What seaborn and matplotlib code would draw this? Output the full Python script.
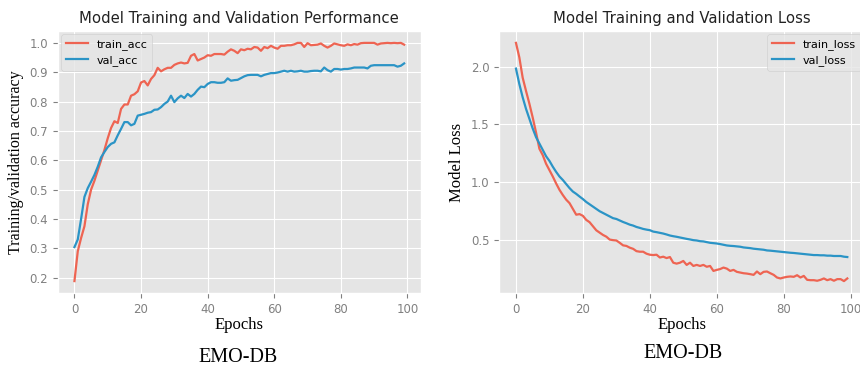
import numpy as np
import pandas as pd
import matplotlib
matplotlib.use('Agg')
import matplotlib.pyplot as plt
import seaborn as sns

# --- data (100 epochs) ---
epochs = list(range(100))

train_acc = [0.188, 0.29, 0.335, 0.375, 0.45, 0.50, 0.53, 0.565, 0.60, 0.635,
             0.675, 0.71, 0.733, 0.727, 0.775, 0.79, 0.79, 0.82, 0.825, 0.835,
             0.865, 0.87, 0.855, 0.877, 0.89, 0.915, 0.903, 0.91, 0.915, 0.915,
             0.925, 0.93, 0.933, 0.93, 0.932, 0.956, 0.962, 0.94, 0.945, 0.95,
             0.958, 0.956, 0.962, 0.962, 0.962, 0.96, 0.97, 0.978, 0.973, 0.965,
             0.978, 0.975, 0.98, 0.978, 0.986, 0.984, 0.973, 0.986, 0.982, 0.99,
             0.984, 0.98, 0.99, 0.99, 0.992, 0.992, 0.995, 1.0, 1.0, 0.986,
             0.999, 0.992, 0.993, 0.994, 0.998, 0.99, 0.984, 0.99, 0.998, 0.995,
             0.992, 0.99, 0.995, 0.992, 0.996, 0.994, 0.999, 1.0, 1.0, 1.0,
             1.0, 0.994, 0.998, 0.999, 1.0, 0.999, 1.0, 0.999, 1.0, 0.994]

val_acc = [0.304, 0.33, 0.40, 0.475, 0.505, 0.527, 0.55, 0.578, 0.61, 0.628,
           0.645, 0.656, 0.661, 0.685, 0.707, 0.73, 0.73, 0.719, 0.724, 0.752,
           0.755, 0.758, 0.762, 0.764, 0.772, 0.773, 0.781, 0.792, 0.80, 0.82,
           0.798, 0.811, 0.82, 0.812, 0.826, 0.817, 0.826, 0.84, 0.851, 0.849,
           0.86, 0.866, 0.866, 0.864, 0.864, 0.866, 0.879, 0.871, 0.873, 0.874,
           0.88, 0.886, 0.89, 0.891, 0.891, 0.891, 0.886, 0.891, 0.894, 0.897,
           0.897, 0.899, 0.902, 0.905, 0.902, 0.905, 0.902, 0.903, 0.905, 0.902,
           0.902, 0.904, 0.905, 0.905, 0.903, 0.916, 0.907, 0.902, 0.911, 0.911,
           0.909, 0.911, 0.911, 0.913, 0.916, 0.916, 0.916, 0.916, 0.913, 0.922,
           0.924, 0.924, 0.924, 0.924, 0.924, 0.924, 0.924, 0.919, 0.922, 0.93]

train_loss = [2.205, 2.08, 1.905, 1.79, 1.68, 1.56, 1.43, 1.29, 1.235, 1.16,
              1.105, 1.05, 0.99, 0.935, 0.89, 0.85, 0.82, 0.77, 0.72, 0.725,
              0.71, 0.675, 0.655, 0.62, 0.585, 0.565, 0.545, 0.53, 0.505, 0.50,
              0.497, 0.477, 0.455, 0.45, 0.435, 0.425, 0.405, 0.40, 0.40, 0.383,
              0.374, 0.371, 0.374, 0.35, 0.357, 0.345, 0.354, 0.305, 0.297, 0.305,
              0.32, 0.286, 0.305, 0.277, 0.286, 0.277, 0.286, 0.27, 0.277, 0.234,
              0.243, 0.25, 0.263, 0.254, 0.234, 0.243, 0.226, 0.22, 0.214, 0.211,
              0.206, 0.20, 0.229, 0.206, 0.226, 0.229, 0.214, 0.20, 0.177, 0.169,
              0.177, 0.183, 0.186, 0.183, 0.197, 0.177, 0.191, 0.157, 0.154, 0.154,
              0.149, 0.157, 0.169, 0.154, 0.163, 0.149, 0.163, 0.163, 0.146, 0.169]

val_loss = [1.983, 1.85, 1.735, 1.635, 1.55, 1.465, 1.39, 1.335, 1.28, 1.225,
            1.185, 1.135, 1.09, 1.05, 1.02, 0.985, 0.95, 0.92, 0.90, 0.877,
            0.855, 0.83, 0.81, 0.79, 0.77, 0.75, 0.735, 0.72, 0.705, 0.69,
            0.683, 0.67, 0.657, 0.646, 0.634, 0.626, 0.614, 0.606, 0.597, 0.591,
            0.586, 0.574, 0.569, 0.563, 0.557, 0.549, 0.54, 0.534, 0.529, 0.523,
            0.517, 0.511, 0.506, 0.50, 0.497, 0.491, 0.489, 0.483, 0.477, 0.474,
            0.471, 0.466, 0.46, 0.454, 0.451, 0.449, 0.446, 0.443, 0.437, 0.434,
            0.431, 0.426, 0.423, 0.42, 0.417, 0.411, 0.409, 0.406, 0.403, 0.40,
            0.397, 0.394, 0.391, 0.389, 0.386, 0.383, 0.38, 0.377, 0.374, 0.371,
            0.371, 0.369, 0.369, 0.366, 0.366, 0.363, 0.363, 0.363, 0.357, 0.354]

RED = '#EE6452'
BLUE = '#2B94C6'
SERIF = ['Liberation Serif', 'DejaVu Serif']

plt.style.use('ggplot')
plt.rcParams['font.family'] = ['DejaVu Sans']

fig = plt.figure(figsize=(8.6, 3.67), dpi=100)
ax1 = fig.add_axes([0.0674, 0.2016, 0.4217, 0.714])
ax2 = fig.add_axes([0.5807, 0.2016, 0.4238, 0.714])

# --- left: accuracy ---
sns.lineplot(x=epochs, y=train_acc, ax=ax1, color=RED, lw=1.6, label='train_acc')
sns.lineplot(x=epochs, y=val_acc, ax=ax1, color=BLUE, lw=1.6, label='val_acc')
ax1.set_title('Model Training and Validation Performance', fontsize=10.7, color='#222222')
ax1.set_xlabel('Epochs', family=SERIF, fontsize=12, color='black', labelpad=1)
ax1.set_ylabel('Training/validation accuracy', family=SERIF, fontsize=11.5, color='black')
ax1.set_xticks([0, 20, 40, 60, 80, 100])
ax1.legend(loc='upper left', fontsize=8, borderaxespad=0.3)

# --- right: loss ---
sns.lineplot(x=epochs, y=train_loss, ax=ax2, color=RED, lw=1.6, label='train_loss')
sns.lineplot(x=epochs, y=val_loss, ax=ax2, color=BLUE, lw=1.6, label='val_loss')
ax2.set_title('Model Training and Validation Loss', fontsize=10.7, color='#222222')
ax2.set_xlabel('Epochs', family=SERIF, fontsize=12, color='black', labelpad=1)
ax2.set_ylabel('Model Loss', family=SERIF, fontsize=12, color='black')
ax2.set_xticks([0, 20, 40, 60, 80, 100])
ax2.set_yticks([0.5, 1.0, 1.5, 2.0])
ax2.legend(loc='upper right', fontsize=8, borderaxespad=0.3)

for ax in (ax1, ax2):
    ax.tick_params(labelsize=8.5, colors='#808080')

fig.text(0.2767, 0.025, 'EMO-DB', family=SERIF, fontsize=14.5, ha='center', va='center')
fig.text(0.794, 0.038, 'EMO-DB', family=SERIF, fontsize=14.5, ha='center', va='center')

plt.savefig('out.png', dpi=100)
